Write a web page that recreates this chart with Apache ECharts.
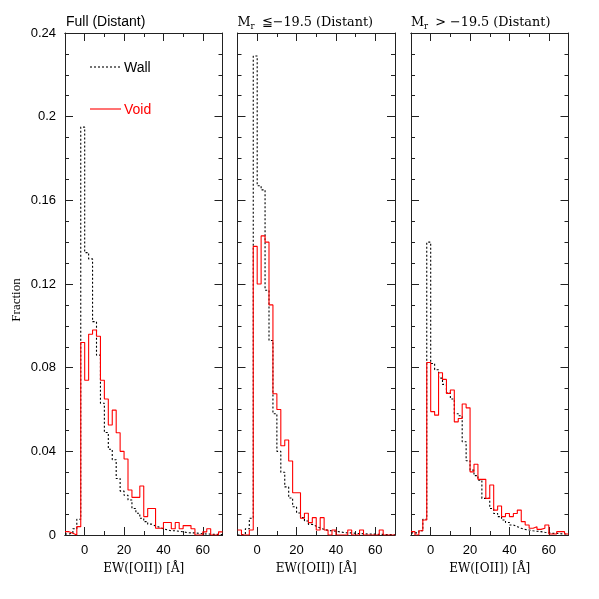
<!DOCTYPE html>
<html>
<head>
<meta charset="utf-8">
<script src="https://cdn.jsdelivr.net/npm/echarts@6.0.0/dist/echarts.min.js"></script>
<style>
  html, body { margin: 0; padding: 0; background: #fff; }
  #chart { width: 599px; height: 599px; }
</style>
</head>
<body>
<div id="chart"></div>
<script>
// left edge of each 2 Å bin
const binEdges = [-10, -8, -6, -4, -2, 0, 2, 4, 6, 8, 10, 12, 14, 16, 18, 20, 22, 24, 26, 28,
  30, 32, 34, 36, 38, 40, 42, 44, 46, 48, 50, 52, 54, 56, 58, 60, 62, 64, 66, 68];
const binWidth = 2;
const xTicks = [0, 20, 40, 60];
const xMinorTicks = [10, 30, 50];

const panelTitles = ["Full (Distant)", "{m|M}{s|r} ≦−19.5 (Distant)", "{m|M}{s|r} > −19.5 (Distant)"];

// Full (Distant)
const wallFull = [0.0005, 0.001, 0.003, 0.0075, 0.195, 0.135, 0.132, 0.102, 0.086, 0.063,
  0.049, 0.041, 0.036, 0.027, 0.021, 0.019, 0.0167, 0.0127, 0.0104, 0.008,
  0.0064, 0.0052, 0.0043, 0.0037, 0.003, 0.0025, 0.002, 0.002, 0.0018, 0.0015,
  0.0012, 0.001, 0.001, 0.0008, 0.0006, 0.0005, 0.0004, 0.0003, 0.0003, 0.0002];
const voidFull = [0.0016, 0.0008, 0, 0.004, 0.092, 0.074, 0.096, 0.098, 0.095, 0.074,
  0.065, 0.0526, 0.0597, 0.0489, 0.040, 0.0363, 0.0215, 0.018, 0.018, 0.0234,
  0.0088, 0.0127, 0.0127, 0.0032, 0.0032, 0.006, 0.006, 0.003, 0.006, 0.003,
  0.0045, 0.0045, 0.003, 0, 0, 0.0015, 0.003, 0, 0, 0.0015];

// Mr <= -19.5
const wallBright = [0, 0.0005, 0.003, 0.008, 0.229, 0.167, 0.165, 0.117, 0.093, 0.058,
  0.040, 0.030, 0.023, 0.0177, 0.0135, 0.0105, 0.0083, 0.0067, 0.0051, 0.0042,
  0.0033, 0.0027, 0.0022, 0.002, 0.0018, 0.0015, 0.0012, 0.001, 0.001, 0.0008,
  0.0007, 0.0006, 0.0005, 0.0004, 0.0004, 0.0003, 0.0003, 0.0002, 0.0002, 0.0001];
const voidBright = [0.0024, 0, 0, 0.0024, 0.138, 0.120, 0.143, 0.140, 0.110, 0.0675,
  0.060, 0.0427, 0.0454, 0.0354, 0.0202, 0.0202, 0.008, 0.0104, 0.0059, 0.0083,
  0.0024, 0.0083, 0.0024, 0, 0.0024, 0, 0, 0, 0.0024, 0,
  0, 0.0024, 0, 0, 0, 0, 0.0024, 0, 0, 0];

// Mr > -19.5
const wallFaint = [0.001, 0.001, 0.002, 0.0075, 0.140, 0.082, 0.079, 0.075, 0.072, 0.068,
  0.065, 0.058, 0.057, 0.0446, 0.0355, 0.031, 0.0284, 0.0262, 0.0175, 0.0175,
  0.0127, 0.0103, 0.0088, 0.0072, 0.006, 0.0048, 0.004, 0.0032, 0.0027, 0.0024,
  0.002, 0.0018, 0.0016, 0.0013, 0.0011, 0.0008, 0.0008, 0.0006, 0.0005, 0.0004];
const voidFaint = [0.0016, 0, 0.002, 0.0072, 0.0825, 0.059, 0.0573, 0.0776, 0.0744, 0.0677,
  0.0693, 0.0541, 0.0557, 0.0626, 0.0608, 0.0302, 0.0338, 0.0266, 0.0266, 0.0175,
  0.0239, 0.0119, 0.0139, 0.0088, 0.0103, 0.0088, 0.0103, 0.0119, 0.0064, 0.0048,
  0.0032, 0.004, 0.0027, 0.0032, 0.0048, 0.0005, 0.0005, 0.0016, 0.0016, 0.0005];

const wallData = [wallFull, wallBright, wallFaint];
const voidData = [voidFull, voidBright, voidFaint];

const gridLefts = [65, 237.5, 411];
const axisColor = "#222";
const serif = "DejaVu Serif";

// histogram as step line through bin edges
function hist(vals) {
  const pts = vals.map((v, i) => [binEdges[i], v]);
  pts.push([binEdges[binEdges.length - 1] + binWidth, vals[vals.length - 1]]);
  return pts;
}

const grid = [];
const xAxis = [];
const yAxis = [];
const series = [];
const title = [];

gridLefts.forEach((left, i) => {
  grid.push({ left: left, top: 33, width: 157.5, height: 502 });

  const xBase = {
    gridIndex: i, type: "value", min: -10, max: 70,
    splitLine: { show: false },
    axisLine: { show: true, onZero: false, lineStyle: { color: axisColor, width: 1 } }
  };
  // bottom major (labels)
  xAxis.push(Object.assign({}, xBase, {
    position: "bottom",
    name: "EW([OII]) [Å]", nameLocation: "middle", nameGap: 28,
    nameTextStyle: { fontFamily: serif, fontSize: 12, color: "#000" },
    axisTick: { show: true, inside: true, length: 8, customValues: xTicks, lineStyle: { color: axisColor } },
    axisLabel: { show: true, customValues: xTicks, margin: 9, fontFamily: "Liberation Sans", fontSize: 13, color: "#000" }
  }));
  // bottom minor
  xAxis.push(Object.assign({}, xBase, {
    position: "bottom",
    axisTick: { show: true, inside: true, length: 4, customValues: xMinorTicks, lineStyle: { color: axisColor } },
    axisLabel: { show: false }
  }));
  // top major
  xAxis.push(Object.assign({}, xBase, {
    position: "top",
    axisTick: { show: true, inside: true, length: 8, customValues: xTicks, lineStyle: { color: axisColor } },
    axisLabel: { show: false }
  }));
  // top minor
  xAxis.push(Object.assign({}, xBase, {
    position: "top",
    axisTick: { show: true, inside: true, length: 4, customValues: xMinorTicks, lineStyle: { color: axisColor } },
    axisLabel: { show: false }
  }));

  const yBase = {
    gridIndex: i, type: "value", min: 0, max: 0.24, interval: 0.04,
    splitLine: { show: false },
    axisLine: { show: true, onZero: false, lineStyle: { color: axisColor, width: 1 } },
    axisTick: { show: true, inside: true, length: 8, lineStyle: { color: axisColor } },
    minorTick: { show: true, splitNumber: 4, length: 4, lineStyle: { color: axisColor } }
  };
  yAxis.push(Object.assign({}, yBase, {
    position: "left",
    axisLabel: { show: i === 0, margin: 9, fontFamily: "Liberation Sans", fontSize: 13, color: "#000" }
  }));
  yAxis.push(Object.assign({}, yBase, {
    position: "right",
    axisLabel: { show: false }
  }));

  series.push({
    name: "Wall", type: "line", step: "end", xAxisIndex: i * 4, yAxisIndex: i * 2,
    data: hist(wallData[i]), symbol: "none", showSymbol: false,
    lineStyle: { color: "#000", width: 1.1, type: [2, 2] }
  });
  series.push({
    name: "Void", type: "line", step: "end", xAxisIndex: i * 4, yAxisIndex: i * 2,
    data: hist(voidData[i]), symbol: "none", showSymbol: false,
    lineStyle: { color: "#ff0000", width: 1.1 }
  });

  title.push({
    text: panelTitles[i],
    left: i === 0 ? 61 : left - 5,
    top: 10,
    textStyle: i === 0
      ? { fontFamily: "Liberation Sans", fontSize: 14, fontWeight: "normal", color: "#000" }
      : {
          fontFamily: serif, fontSize: 12.8, fontWeight: "normal", color: "#000",
          rich: {
            m: { fontFamily: serif, fontSize: 12.8, color: "#000" },
            s: { fontFamily: serif, fontSize: 8.5, color: "#000", padding: [7, 3, 0, 0] }
          }
        }
  });
});

// legend drawn as plain graphics in the first panel
const legendItems = [
  { label: "Wall", color: "#000", dash: [2, 2], y: 67 },
  { label: "Void", color: "#ff0000", dash: null, y: 109 }
];
const graphic = [{
  type: "text", x: 17, y: 300, rotation: Math.PI / 2,
  style: { text: "Fraction", fontFamily: "Liberation Serif", fontSize: 13, fill: "#000", align: "center", verticalAlign: "middle" }
}];
legendItems.forEach((it) => {
  graphic.push({
    type: "line", shape: { x1: 90, y1: it.y, x2: 121, y2: it.y },
    style: { stroke: it.color, lineWidth: 1.1, lineDash: it.dash }
  });
  graphic.push({
    type: "text", x: 124, y: it.y + 1,
    style: { text: it.label, fontFamily: "Liberation Sans", fontSize: 14, fill: it.color, verticalAlign: "middle" }
  });
});

const chart = echarts.init(document.getElementById("chart"));
chart.setOption({
  animation: false,
  backgroundColor: "#fff",
  title: title,
  grid: grid,
  xAxis: xAxis,
  yAxis: yAxis,
  series: series,
  graphic: graphic
});
</script>
</body>
</html>
